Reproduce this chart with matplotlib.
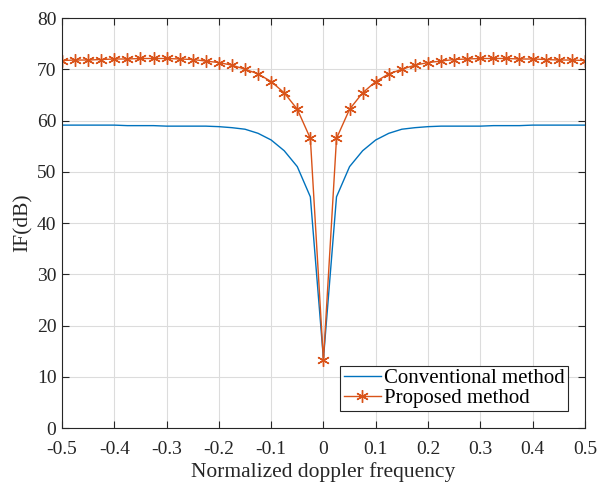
import numpy as np
import matplotlib.pyplot as plt

plt.rcParams['font.family'] = ['Liberation Serif', 'DejaVu Serif']
plt.rcParams['axes.unicode_minus'] = False

# normalized doppler frequency grid
freq = np.arange(-0.5, 0.5001, 0.025)

# left half (-0.5 .. -0.025), center, mirrored on the right
conv_left = [59.1, 59.1, 59.1, 59.1, 59.1, 59.0, 59.0, 59.0, 58.9, 58.9,
             58.9, 58.9, 58.8, 58.6, 58.3, 57.5, 56.2, 54.1, 51.0, 45.1]
prop_left = [71.7, 71.8, 71.8, 71.9, 72.0, 72.0, 72.1, 72.1, 72.1, 72.0,
             71.9, 71.6, 71.3, 70.8, 70.0, 69.1, 67.6, 65.4, 62.2, 56.5]
conv_center = 13.5
prop_center = 13.2

conventional = conv_left + [conv_center] + conv_left[::-1]
proposed = prop_left + [prop_center] + prop_left[::-1]

fig = plt.figure(figsize=(5.98, 4.84), dpi=100)
ax = fig.add_axes([0.1037, 0.1157, 0.8743, 0.8471])

ax.plot(freq, conventional, color='#0072BD', lw=1.0, label='Conventional method')
ax.plot(freq, proposed, color='#D95319', lw=1.0, marker=(6, 2, 0), markersize=9,
        markeredgewidth=1.0, label='Proposed method')

ax.set_xlim(-0.5, 0.5)
ax.set_ylim(0, 80)
ax.set_xticks(np.arange(-0.5, 0.51, 0.1))
ax.set_xticklabels(['-0.5', '-0.4', '-0.3', '-0.2', '-0.1', '0',
                    '0.1', '0.2', '0.3', '0.4', '0.5'])
ax.set_yticks(np.arange(0, 81, 10))
ax.grid(True, color='#dcdcdc', lw=0.8)
ax.set_axisbelow(True)
ax.tick_params(direction='in', top=True, right=True, labelsize=14,
               length=5, width=0.8, colors='#262626')
ax.tick_params(axis='x', pad=9)
ax.tick_params(axis='y', pad=4)
for s in ax.spines.values():
    s.set_color('#262626')
    s.set_linewidth(0.8)

ax.set_xlabel('Normalized doppler frequency', fontsize=15.5, color='#262626', labelpad=3)
ax.set_ylabel('IF(dB)', fontsize=15.5, color='#262626', labelpad=3)

leg = ax.legend(loc='lower right', bbox_to_anchor=(0.968, 0.041), fontsize=15,
                fancybox=False, framealpha=1, edgecolor='#262626',
                borderpad=0.15, handlelength=1.8, handletextpad=0.15,
                labelspacing=0.0, borderaxespad=0)
leg.get_frame().set_linewidth(0.8)

fig.savefig('out.png', dpi=100)
